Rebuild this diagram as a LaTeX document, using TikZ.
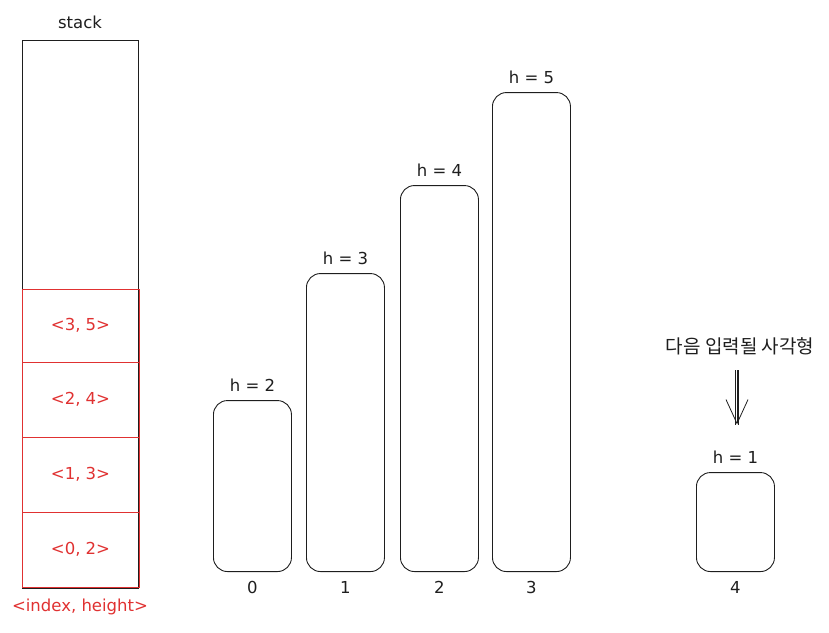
\documentclass[tikz,border=0pt]{standalone}
\usepackage{fontspec}
\setmainfont{DejaVu Sans}
\newfontfamily\krfont{Noto Sans CJK KR}
\usetikzlibrary{arrows.meta,positioning}
\definecolor{ink}{HTML}{1E1E1E}
\definecolor{exred}{HTML}{E03131}
\begin{document}
\begin{tikzpicture}[x=1pt,y=-1pt,
  bar/.style={draw=ink, line width=0.9pt, rounded corners=14pt, inner sep=0pt, anchor=south west, minimum width=78pt},
  cell/.style={draw=exred, line width=0.9pt, inner sep=0pt, minimum width=117pt, minimum height=75pt, text=exred, font=\fontsize{16.5}{19}\selectfont},
  lbl/.style={text=ink, font=\fontsize{16.5}{19}\selectfont, inner sep=1pt},
  stackbox/.style={draw=ink, line width=0.8pt, inner sep=0pt, anchor=north west}]
\useasboundingbox (0,0) rectangle (829,632);
% stack
\node[stackbox, minimum width=116pt, minimum height=548pt] (stk) at (22,40) {};
\node[lbl] (stklbl) at (80,22) {stack};
\node[cell, minimum height=73pt] (c3) at (80.5,325.5) {<3, 5>};
\node[cell] (c2) at (80.5,399.5) {<2, 4>};
\node[cell] (c1) at (80.5,474.5) {<1, 3>};
\node[cell] (c0) at (80.5,549.5) {<0, 2>};
\node[lbl, text=exred] (leg) at (80,607) {<index, height>};
% bars
\node[bar, minimum height=171pt] (b0) at (213,572) {};
\node[bar, minimum height=298pt] (b1) at (306,572) {};
\node[bar, minimum height=386pt] (b2) at (400,572) {};
\node[bar, minimum height=479pt] (b3) at (492,572) {};
\node[bar, minimum height=99pt] (b4) at (696,572) {};
\foreach \b/\h/\i in {b0/2/0, b1/3/1, b2/4/2, b3/5/3, b4/1/4}{
  \node[lbl, above=7pt of \b.north] (h\b) {h = \h};
  \node[lbl, below=8pt of \b.south] (i\b) {\i};
}
% next rectangle
\node[lbl, font=\krfont\fontsize{19}{22}\selectfont] (next) at (740,346) {다음 입력될 사각형};
\coordinate (as) at (737,370);
\coordinate (ae) at (737,425);
\draw[draw=ink, line width=0.8pt] ([xshift=-1.2pt]as) -- ([xshift=-1.2pt]ae);
\draw[draw=ink, line width=0.8pt] ([xshift=1.2pt]as) -- ([xshift=1.2pt]ae);
\draw[draw=ink, line width=0.8pt, -{Straight Barb[length=24pt,width=22pt,line width=0.8pt]}] (as) -- ([yshift=0.5pt]ae);
\end{tikzpicture}
\end{document}
